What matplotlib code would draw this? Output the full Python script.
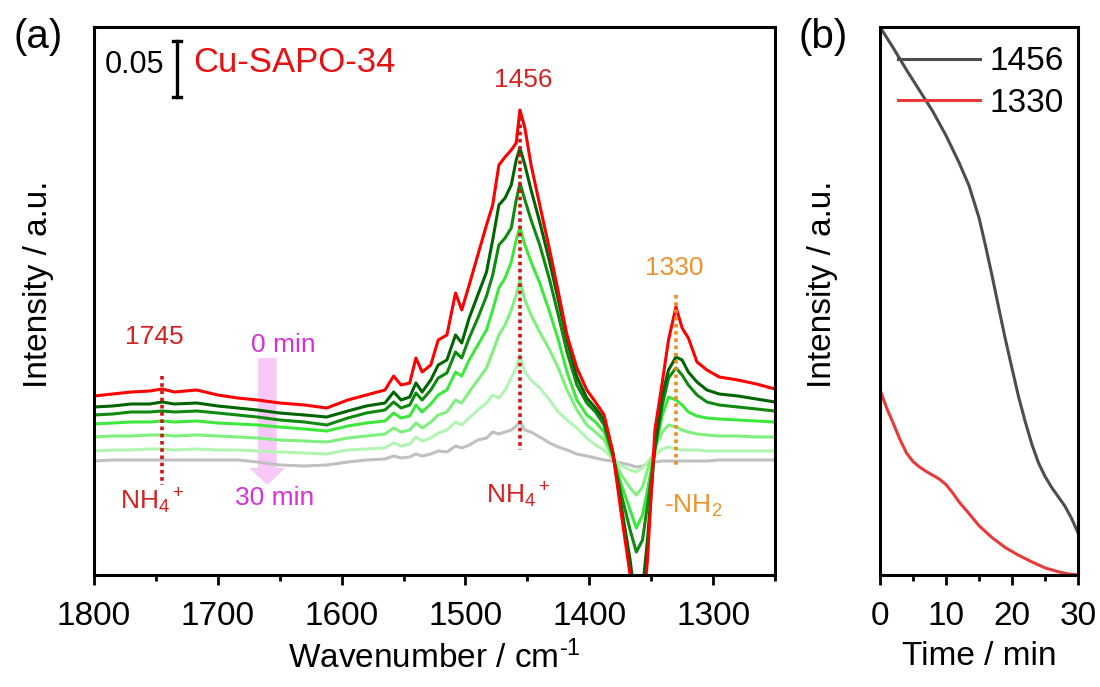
import matplotlib
matplotlib.use('Agg')
import matplotlib.pyplot as plt
from matplotlib.patches import FancyArrow
from matplotlib.ticker import MultipleLocator

plt.rcParams['font.family'] = ['Liberation Sans', 'DejaVu Sans']
plt.rcParams['mathtext.fontset'] = 'custom'
plt.rcParams['mathtext.rm'] = 'Liberation Sans'
plt.rcParams['mathtext.it'] = 'Liberation Sans:italic'
plt.rcParams['mathtext.bf'] = 'Liberation Sans:bold'

# ---------------- data: panel (a) ----------------
wavenumber = [1800, 1785, 1770, 1755, 1745, 1735, 1717, 1700, 1684, 1668, 1650, 1630, 1612,
              1595, 1580, 1565, 1558, 1552, 1545, 1540, 1535, 1528, 1522, 1515, 1508, 1503,
              1497, 1490, 1483, 1478, 1473, 1468, 1463, 1459, 1456, 1452, 1447, 1440, 1432,
              1425, 1418, 1410, 1402, 1395, 1388, 1381, 1374, 1367, 1362, 1357, 1353, 1347,
              1341, 1336, 1330, 1325, 1320, 1313, 1305, 1295, 1280, 1265, 1250]

absorb_0min = [65, 67, 69, 70, 72, 69, 71, 66, 63, 61, 58, 56, 53,
               61, 66, 71, 85, 76, 78, 103, 89, 96, 121, 126, 168, 151,
               176, 206, 236, 256, 296, 304, 311, 318, 351, 333, 296, 256, 211,
               169, 126, 93, 71, 59, 46, 9, -54, -114, -179, -154, -99, 31,
               79, 121, 154, 133, 123, 99, 91, 84, 81, 77, 72]
absorb_5min = [54, 55, 57, 57, 59, 57, 58, 55, 53, 51, 48, 46, 44,
               50, 55, 58, 69, 61, 64, 78, 69, 81, 96, 101, 126, 118,
               143, 166, 189, 221, 256, 263, 276, 301, 313, 296, 271, 239, 199,
               161, 121, 84, 63, 53, 41, 9, -46, -99, -149, -129, -79, 16,
               66, 91, 104, 101, 89, 79, 71, 67, 65, 62, 59]
absorb_10min = [46, 47, 49, 49, 50, 49, 50, 48, 46, 44, 41, 39, 36,
                43, 48, 51, 59, 53, 56, 68, 61, 71, 83, 88, 109, 103,
                123, 143, 165, 186, 216, 223, 233, 261, 278, 261, 241, 216, 181,
                146, 109, 76, 58, 49, 36, 6, -34, -69, -91, -79, -44, 11,
                56, 83, 93, 86, 76, 66, 59, 56, 54, 52, 50]
absorb_15min = [37, 38, 39, 39, 40, 39, 40, 38, 37, 36, 34, 32, 30,
                35, 38, 40, 48, 43, 45, 56, 49, 57, 66, 71, 89, 85,
                101, 116, 131, 151, 173, 183, 199, 221, 234, 216, 199, 178, 149,
                121, 89, 61, 46, 39, 29, 4, -24, -49, -67, -54, -29, 11,
                46, 64, 61, 56, 49, 45, 43, 42, 41, 40, 39]
absorb_20min = [24, 25, 25, 26, 26, 25, 26, 25, 24, 23, 21, 20, 19,
                23, 25, 27, 33, 29, 31, 38, 33, 39, 46, 49, 61, 58,
                69, 81, 93, 109, 126, 136, 151, 166, 181, 161, 146, 129, 111,
                93, 71, 51, 36, 29, 21, 3, -14, -27, -34, -26, -9, 13,
                29, 36, 34, 31, 29, 27, 26, 25, 25, 24, 24]
absorb_25min = [10, 11, 11, 12, 12, 11, 12, 11, 11, 10, 9, 8, 7,
                11, 12, 13, 18, 15, 17, 24, 20, 23, 28, 31, 39, 36,
                43, 51, 58, 66, 63, 71, 83, 93, 106, 89, 81, 73, 61,
                49, 41, 33, 23, 16, 11, 2, -5, -9, -11, -7, -1, 6,
                12, 14, 12, 11, 11, 11, 10, 10, 10, 10, 10]
absorb_30min = [0, 1, 1, 1, 1, 1, 1, 1, 1, -1, -4, -5, -4,
                -1, 1, 2, 5, 3, 4, 7, 5, 7, 10, 9, 15, 13,
                16, 21, 23, 29, 27, 29, 31, 35, 39, 31, 29, 24, 18,
                14, 11, 7, 5, 3, 1, 0, -2, -4, -6, -5, -3, -1,
                0, 0, 0, 0, 0, 0, 0, 1, 1, 1, 1]

spectra = [absorb_30min, absorb_25min, absorb_20min, absorb_15min,
           absorb_10min, absorb_5min, absorb_0min]
spectra_colors = ['#c0c0c0', '#b2f5b2', '#7df07d', '#3de83d', '#0f8a0f', '#006400', '#ff0000']

xticks_a = [1800, 1700, 1600, 1500, 1400, 1300]

# ---------------- data: panel (b) ----------------
time_1456 = [0, 2, 4, 6, 8, 10, 12, 13.5, 15, 16, 17, 18, 19, 20, 21, 22, 23, 24, 25, 26,
             27, 28, 29, 30]
int_1456 = [1.000, 0.962, 0.922, 0.884, 0.846, 0.802, 0.752, 0.710, 0.652, 0.600, 0.545,
            0.487, 0.430, 0.377, 0.325, 0.280, 0.239, 0.205, 0.180, 0.160, 0.143, 0.126,
            0.104, 0.077]
time_1330 = [0, 1, 2, 3, 4, 5, 6, 7, 8, 9, 10, 11, 12, 13.5, 15, 17, 19, 21, 23, 25, 27,
             28.5, 30]
int_1330 = [0.338, 0.305, 0.277, 0.248, 0.223, 0.207, 0.197, 0.189, 0.182, 0.175, 0.165,
            0.150, 0.133, 0.112, 0.090, 0.068, 0.050, 0.036, 0.024, 0.013, 0.006, 0.002, 0.0]
xticks_b = [0, 10, 20, 30]

# ---------------- figure ----------------
W, H = 1100, 687
fig = plt.figure(figsize=(11, 6.87), dpi=100)
axa = fig.add_axes([94 / W, (H - 575) / H, 681 / W, 548 / H])
axb = fig.add_axes([880 / W, (H - 575) / H, 198 / W, 548 / H])

LW = 2.2
for ys, c in zip(spectra, spectra_colors):
    axa.plot(wavenumber, ys, color=c, lw=LW, solid_joinstyle='round')

axa.set_xlim(1800, 1250)
axa.set_ylim(-114, 434)
axa.set_xticks(xticks_a)
axa.xaxis.set_minor_locator(MultipleLocator(50))
axa.set_yticks([])
axa.set_xlabel(r'Wavenumber / cm$^{\text{-1}}$', fontsize=24, labelpad=6)
axa.set_ylabel('Intensity / a.u.', fontsize=24)
axa.yaxis.set_label_coords(-0.059, 0.531)

# dotted marker lines
red_txt = '#d42222'
orange = '#f0922b'
axa.plot([1745, 1745], [85, -24], color='#d01515', lw=2.6, ls=(0, (1, 1)))
axa.plot([1456, 1456], [351, 11], color='#d01515', lw=2.6, ls=(0, (1, 1)))
axa.plot([1330, 1330], [166, -7], color='#ef8a1e', lw=2.6, ls=(0, (1, 1)))

fs_ann = 19
axa.text(1751, 124, '1745', color=red_txt, fontsize=fs_ann, ha='center', va='center')
axa.text(1753, -40, 'NH$_4$$^+$', color=red_txt, fontsize=fs_ann, ha='center', va='center')
axa.text(1453, 381, '1456', color=red_txt, fontsize=fs_ann, ha='center', va='center')
axa.text(1457, -34, 'NH$_4$$^+$', color=red_txt, fontsize=fs_ann, ha='center', va='center')
axa.text(1331, 193, '1330', color=orange, fontsize=fs_ann, ha='center', va='center')
axa.text(1316, -45, '-NH$_2$', color=orange, fontsize=fs_ann, ha='center', va='center')
axa.text(1647, 116, '0 min', color='#d82fd8', fontsize=fs_ann, ha='center', va='center')
axa.text(1654, -37, '30 min', color='#d82fd8', fontsize=fs_ann, ha='center', va='center')
axa.add_patch(FancyArrow(1660, 103, 0, -127, width=15, head_width=29, head_length=17,
                         length_includes_head=True, color='#f8c8f8', lw=0, zorder=1))

# scale bar
axa.plot([1733, 1733], [364, 420], color='black', lw=2.4)
axa.plot([1736, 1730], [364, 364], color='black', lw=2.4)
axa.plot([1736, 1730], [420, 420], color='black', lw=2.4)
axa.text(1767, 396, '0.05', fontsize=22, ha='center', va='center')
axa.text(1638, 399, 'Cu-SAPO-34', color='#e81010', fontsize=25, ha='center', va='center')

# panel b
axb.plot(time_1456, int_1456, color='#4d4d4d', lw=LW, label='1456')
axb.plot(time_1330, int_1330, color='#e83a3a', lw=LW, label='1330')
axb.set_xlim(0, 30)
axb.set_ylim(0, 1.0)
axb.set_xticks(xticks_b)
axb.xaxis.set_minor_locator(MultipleLocator(5))
axb.set_yticks([])
axb.set_xlabel('Time / min', fontsize=24, labelpad=6)
axb.set_ylabel('Intensity / a.u.', fontsize=24)
axb.yaxis.set_label_coords(-0.212, 0.531)
axb.legend(loc='upper left', bbox_to_anchor=(0.09, 0.965), frameon=False, fontsize=24,
           handlelength=2.46, handletextpad=0.3, labelspacing=0.32, borderpad=0, borderaxespad=0)

for ax in (axa, axb):
    for s in ax.spines.values():
        s.set_linewidth(2.2)
    ax.tick_params(axis='x', which='major', direction='out', length=7, width=2, labelsize=24, pad=12)
    ax.tick_params(axis='x', which='minor', direction='out', length=4, width=2)

fig.text(38 / W, 1 - 37 / H, '(a)', fontsize=29, ha='center', va='center')
fig.text(823 / W, 1 - 37 / H, '(b)', fontsize=29, ha='center', va='center')

fig.savefig('out.png', dpi=100)
